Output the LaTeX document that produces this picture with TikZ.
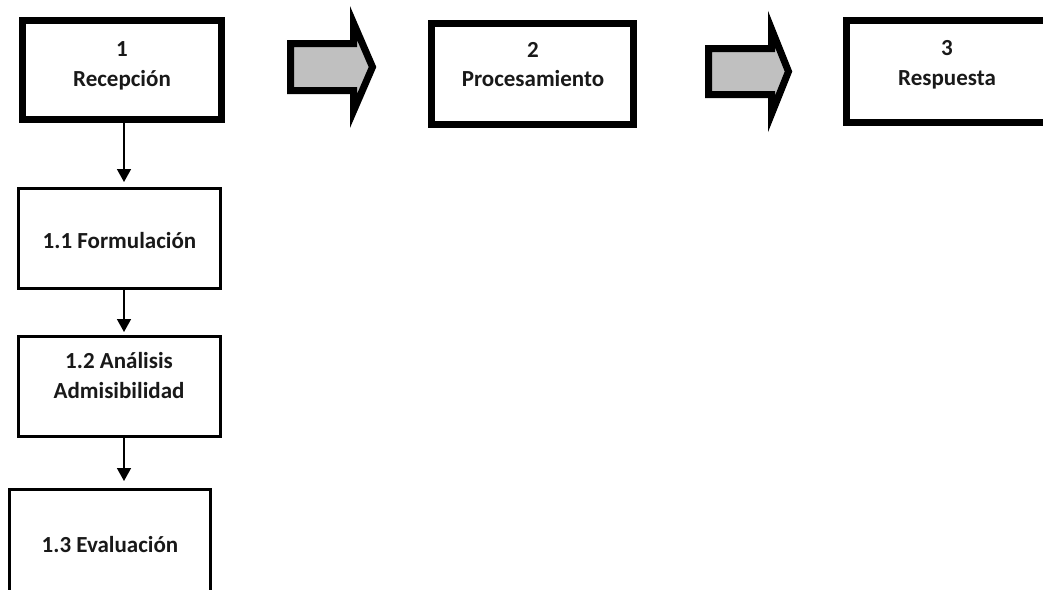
\documentclass[tikz,border=0pt]{standalone}
\usepackage{fontspec}
\setmainfont{Carlito}
\usetikzlibrary{arrows.meta}
\definecolor{arrowgray}{RGB}{192,192,192}
\tikzset{
  bigbox/.style={draw=black, line width=7pt, fill=white, inner sep=0pt, rectangle},
  smallbox/.style={draw=black, line width=3pt, fill=white, inner sep=0pt, rectangle},
  lbl/.style={font=\fontsize{23}{30}\selectfont\bfseries, inner sep=0pt, anchor=base, text=black!90},
  blockarrow/.style={draw=black, line width=7pt, line join=miter, miter limit=20, fill=arrowgray},
  conn/.style={draw=black, line width=1.5pt, -{Triangle[width=14pt,length=13pt]}}
}
\begin{document}
\begin{tikzpicture}[x=1pt,y=-1pt]
\useasboundingbox (0,0) rectangle (1043,589);
\fill[white] (0,0) rectangle (1043,589);
\clip (0,0) rectangle (1043,589);

% top row boxes
\node[bigbox, minimum width=199pt, minimum height=99pt] (b1) at (122,70) {};
\node[bigbox, minimum width=202pt, minimum height=101pt] (b2) at (532.5,74) {};
\node[bigbox, minimum width=240pt, minimum height=102pt] (b3) at (966.5,71.5) {};

\node[lbl] (t1a) at (122,56) {1};
\node[lbl] (t1b) at (122,86) {Recepción};
\node[lbl] (t2a) at (533,57) {2};
\node[lbl] (t2b) at (533,86) {Procesamiento};
\node[lbl] (t3a) at (947,55) {3};
\node[lbl] (t3b) at (947,85) {Respuesta};

% block arrows
\draw[blockarrow] (290.5,43.5) -- (353.5,43.5) -- (353.5,23) -- (372.5,67)
  -- (353.5,111) -- (353.5,90.5) -- (290.5,90.5) -- cycle;
\draw[blockarrow] (708.5,48.5) -- (771.5,48.5) -- (771.5,29) -- (788.5,71.5)
  -- (771.5,114) -- (771.5,94.5) -- (708.5,94.5) -- cycle;

% sub-steps
\node[smallbox, minimum width=202pt, minimum height=100pt] (b11) at (119.5,238.5) {};
\node[smallbox, minimum width=202pt, minimum height=100pt] (b12) at (119.5,386.5) {};
\node[smallbox, minimum width=201pt, minimum height=111pt] (b13) at (110,545) {};

\node[lbl] (t11) at (119.5,248) {1.1 Formulación};
\node[lbl] (t12a) at (119,368) {1.2 Análisis};
\node[lbl] (t12b) at (119,398) {Admisibilidad};
\node[lbl] (t13) at (110,552) {1.3 Evaluación};

% connectors
\coordinate (cx) at (124,0);
\draw[conn, shorten >=5pt] (b1.south -| cx) -- (b11.north -| cx);
\draw[conn, shorten >=3pt] (b11.south -| cx) -- (b12.north -| cx);
\draw[conn, shorten >=7pt] (b12.south -| cx) -- (b13.north -| cx);
\end{tikzpicture}
\end{document}
